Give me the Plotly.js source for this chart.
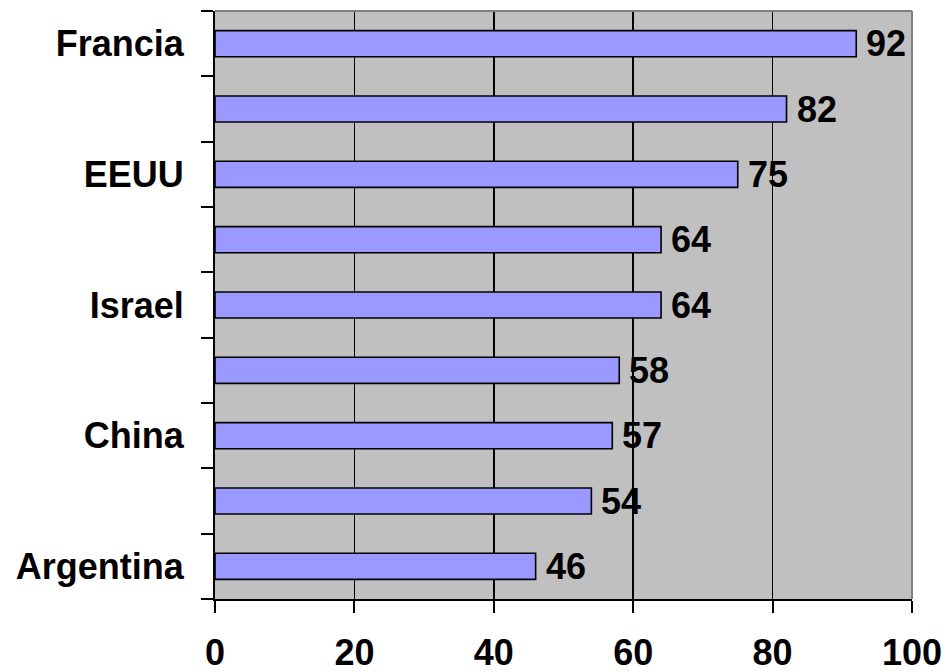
<!DOCTYPE html>
<html>
<head>
<meta charset="utf-8">
<script src="https://cdn.plot.ly/plotly-3.0.1.min.js"></script>
<style>html,body{margin:0;padding:0;background:#fff}#chart{width:946px;height:672px}</style>
</head>
<body>
<div id="chart"></div>
<script>
// bottom to top
const categories = ["Argentina", "", "China", "", "Israel", "", "EEUU", "", "Francia"];
const values = [46, 54, 57, 58, 64, 64, 75, 82, 92];
const xTicks = [0, 20, 40, 60, 80, 100];

const positions = categories.map((c, i) => i);
const font = {family: "Liberation Sans, Arial, sans-serif", size: 36, color: "#000"};

const trace = {
  type: "bar",
  orientation: "h",
  x: values,
  y: positions,
  width: 0.4,
  marker: {color: "#9999FF", line: {color: "#000", width: 1.6}},
  hoverinfo: "skip"
};

const annotations = values.map((v, i) => ({
  x: v, y: positions[i], xref: "x", yref: "y",
  text: "<b>" + v + "</b>", showarrow: false,
  xanchor: "left", yanchor: "middle", xshift: 8,
  font: font
}));

const layout = {
  width: 946, height: 672,
  margin: {l: 215, r: 34, t: 11, b: 73},
  paper_bgcolor: "#fff",
  plot_bgcolor: "#C0C0C0",
  showlegend: false,
  font: font,
  xaxis: {
    range: [0, 100],
    tickvals: xTicks,
    ticktext: xTicks.map(t => "<b>" + t + "</b>"),
    showgrid: true, gridcolor: "#000", gridwidth: 1.5,
    zeroline: false,
    showline: true, linecolor: "#000", linewidth: 2,
    ticks: "outside", ticklen: 12, tickwidth: 2, tickcolor: "#000",
    ticklabelstandoff: 9,
    tickfont: font,
    fixedrange: true
  },
  yaxis: {
    range: [-0.5, 8.5],
    tickvals: positions,
    ticktext: categories.map(c => c ? "<b>" + c + "</b>" : ""),
    ticks: "",
    showgrid: false, zeroline: false,
    showline: true, linecolor: "#000", linewidth: 2,
    ticklabelstandoff: 22,
    tickfont: font,
    minor: {tick0: 0.5, dtick: 1, ticks: "outside", ticklen: 12, tickwidth: 2, tickcolor: "#000", showgrid: false},
    fixedrange: true
  },
  shapes: [
    {type: "line", xref: "paper", yref: "paper", x0: 0, x1: 1, y0: 1, y1: 1, line: {color: "#808080", width: 2}},
    {type: "line", xref: "paper", yref: "paper", x0: 1, x1: 1, y0: 0, y1: 1, line: {color: "#808080", width: 2}}
  ],
  annotations: annotations
};

Plotly.newPlot("chart", [trace], layout, {displayModeBar: false, staticPlot: true});
</script>
</body>
</html>
